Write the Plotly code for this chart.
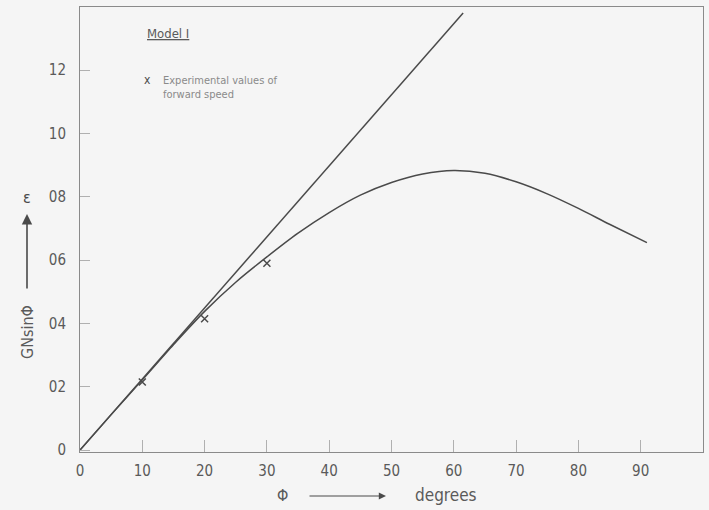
import plotly.graph_objects as go

# Data
phi_curve = [0, 5, 10, 15, 20, 25, 30, 35, 40, 45, 50, 55, 60, 65, 70, 75, 80, 85, 91]
eps_curve = [0, 0.112, 0.222, 0.333, 0.438, 0.53, 0.61, 0.685, 0.75, 0.805, 0.845, 0.872, 0.883, 0.874, 0.847, 0.809, 0.763, 0.713, 0.655]
phi_line = [0, 61.5]
eps_line = [0, 1.38]
phi_exp = [10, 20, 30]
eps_exp = [0.215, 0.415, 0.59]
x_ticks = [0, 10, 20, 30, 40, 50, 60, 70, 80, 90]
x_ticklabels = ["0", "10", "20", "30", "40", "50", "60", "70", "80", "90"]
y_ticks = [0, 0.2, 0.4, 0.6, 0.8, 1.0, 1.2]
y_ticklabels = ["0", "02", "04", "06", "08", "10", "12"]

ink = "#4a4a4a"
axis_col = "#8a8a8a"
txt = "#5a5a5a"
font_fam = "DejaVu Sans Condensed, DejaVu Sans, sans-serif"

fig = go.Figure()
fig.add_trace(go.Scatter(x=phi_line, y=eps_line, mode="lines",
                         line=dict(color=ink, width=1.5), showlegend=False))
fig.add_trace(go.Scatter(x=phi_curve, y=eps_curve, mode="lines", line_shape="spline",
                         line=dict(color=ink, width=1.5, smoothing=0.8), showlegend=False))
fig.add_trace(go.Scatter(x=phi_exp, y=eps_exp, mode="markers",
                         marker=dict(symbol="x-thin", size=7, line=dict(color=ink, width=1.5)),
                         showlegend=False))

W, H = 709, 510
L, R, T, B = 80, 6, 7, 58
pw, ph = W - L - R, H - T - B

def px(x):
    return (x - L) / pw

def py(y):
    return (H - B - y) / ph

fig.update_layout(
    width=W, height=H,
    margin=dict(l=L, r=R, t=T, b=B),
    paper_bgcolor="#f5f5f5", plot_bgcolor="#f5f5f5",
    font=dict(family=font_fam, color=txt, size=14),
    xaxis=dict(range=[0, 100], tickvals=x_ticks, ticktext=x_ticklabels,
               ticks="inside", ticklen=12, tickcolor="#b0b0b0", tickwidth=1,
               ticklabelstandoff=5,
               showgrid=False, zeroline=False, showline=True, linecolor=axis_col,
               linewidth=1, mirror=True, tickfont=dict(size=15, color=txt)),
    yaxis=dict(range=[-0.006, 1.399], tickvals=y_ticks, ticktext=y_ticklabels,
               ticks="inside", ticklen=10, tickcolor="#b0b0b0", tickwidth=1,
               ticklabelstandoff=10,
               showgrid=False, zeroline=False, showline=True, linecolor=axis_col,
               linewidth=1, mirror=True, tickfont=dict(size=15, color=txt)),
)

ann = []
# Model I
ann.append(dict(x=px(145), y=py(33), xref="paper", yref="paper", xanchor="left", yanchor="middle",
                text='<span style="text-decoration:underline">Model I</span>', showarrow=False,
                font=dict(size=13, color=txt)))
# legend text
ann.append(dict(x=px(147), y=py(80), xref="paper", yref="paper", xanchor="center", yanchor="middle",
                text="x", showarrow=False, font=dict(size=12, color=ink)))
ann.append(dict(x=px(161), y=py(87), xref="paper", yref="paper", xanchor="left", yanchor="middle",
                text="Experimental values of<br>forward speed", showarrow=False, align="left",
                font=dict(size=11, color="#8a8a8a")))
# y label
ann.append(dict(x=px(27), y=py(332), xref="paper", yref="paper", xanchor="center", yanchor="middle",
                text="GNsinΦ", textangle=-90, showarrow=False, font=dict(size=16, color=txt)))
ann.append(dict(x=px(27), y=py(214), ax=0, ay=76, xref="paper", yref="paper", axref="pixel", ayref="pixel",
                text="", showarrow=True, arrowhead=2, arrowsize=1.3, arrowwidth=1.6, arrowcolor=ink))
ann.append(dict(x=px(27), y=py(197), xref="paper", yref="paper", xanchor="center", yanchor="middle",
                text="ε", showarrow=False, font=dict(size=16, color=ink)))
# x label
ann.append(dict(x=px(282), y=py(496), xref="paper", yref="paper", xanchor="center", yanchor="middle",
                text="Φ", showarrow=False, font=dict(size=16, color=txt)))
ann.append(dict(x=px(386), y=py(496), ax=-78, ay=0, xref="paper", yref="paper", axref="pixel", ayref="pixel",
                text="", showarrow=True, arrowhead=2, arrowsize=1.2, arrowwidth=1.2, arrowcolor=ink))
ann.append(dict(x=px(413), y=py(495), xref="paper", yref="paper", xanchor="left", yanchor="middle",
                text="degrees", showarrow=False, font=dict(size=17, color=txt)))
fig.update_layout(annotations=ann)

fig.write_html("out.html", config={"displayModeBar": False},
               post_script="document.body.style.margin='0';document.body.style.padding='0';document.body.style.overflow='hidden';")
